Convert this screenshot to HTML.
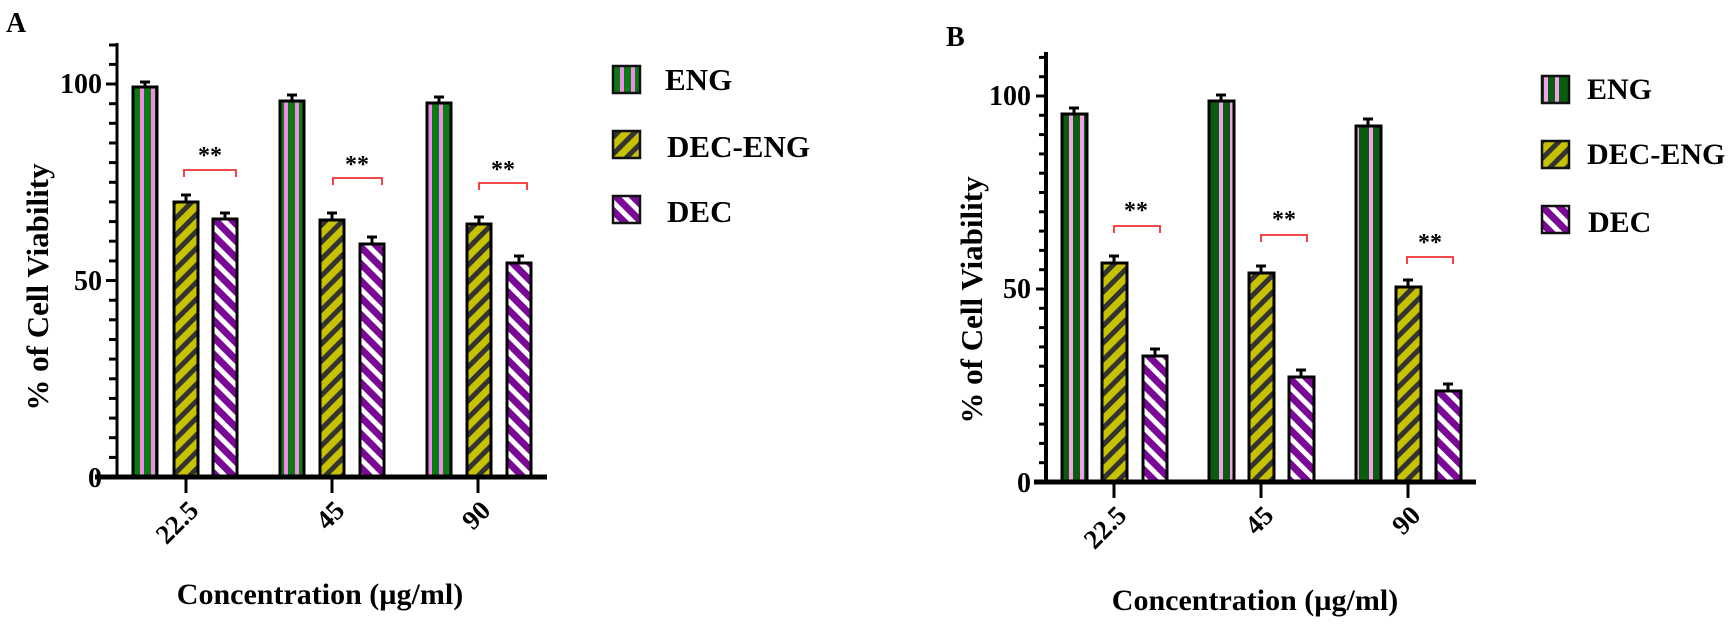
<!DOCTYPE html>
<html><head><meta charset="utf-8"><style>
html,body{margin:0;padding:0;background:#fff;}
svg{display:block;}
svg text{font-family:"Liberation Serif","DejaVu Serif",serif;font-weight:bold;}
</style></head><body>
<svg width="1733" height="626" viewBox="0 0 1733 626" xmlns="http://www.w3.org/2000/svg" font-family="Liberation Serif, DejaVu Serif, serif" font-weight="bold" style="font-family:'Liberation Serif','DejaVu Serif',serif;font-weight:bold">
<defs>
<pattern id="engA" width="24" height="10" patternUnits="userSpaceOnUse" x="133">
<rect width="24" height="10" fill="#0b7a12"/><rect x="7" width="4" height="10" fill="#f08ce8"/><rect x="18" width="4" height="10" fill="#f08ce8"/>
</pattern>
<pattern id="engB" width="25" height="10" patternUnits="userSpaceOnUse" x="1062">
<rect width="25" height="10" fill="#0a5c10"/><rect x="7" width="4" height="10" fill="#f2a0e8"/><rect x="18" width="4" height="10" fill="#f2a0e8"/>
</pattern>
<pattern id="de" width="12" height="12" patternUnits="userSpaceOnUse" patternTransform="rotate(45)">
<rect width="12" height="12" fill="#c6c200"/><rect width="5" height="12" fill="#333"/>
</pattern>
<pattern id="dec" width="12" height="12" patternUnits="userSpaceOnUse" patternTransform="rotate(-45)">
<rect width="12" height="12" fill="#7a0a96"/><rect width="5" height="12" fill="#fff"/>
</pattern>
</defs>

<!-- ===== Panel A ===== -->
<text x="6" y="32" font-size="28">A</text>
<g stroke="#000" stroke-width="3">
<line x1="117" y1="43" x2="117" y2="479"/>
<line x1="109" y1="477" x2="117" y2="477"/><line x1="109" y1="457.4" x2="117" y2="457.4"/><line x1="109" y1="437.7" x2="117" y2="437.7"/><line x1="109" y1="418.1" x2="117" y2="418.1"/><line x1="109" y1="398.4" x2="117" y2="398.4"/><line x1="109" y1="378.8" x2="117" y2="378.8"/><line x1="109" y1="359.1" x2="117" y2="359.1"/><line x1="109" y1="339.5" x2="117" y2="339.5"/><line x1="109" y1="319.8" x2="117" y2="319.8"/><line x1="109" y1="300.2" x2="117" y2="300.2"/><line x1="106" y1="280.5" x2="117" y2="280.5"/><line x1="109" y1="260.9" x2="117" y2="260.9"/><line x1="109" y1="241.2" x2="117" y2="241.2"/><line x1="109" y1="221.6" x2="117" y2="221.6"/><line x1="109" y1="201.9" x2="117" y2="201.9"/><line x1="109" y1="182.3" x2="117" y2="182.3"/><line x1="109" y1="162.6" x2="117" y2="162.6"/><line x1="109" y1="143" x2="117" y2="143"/><line x1="109" y1="123.3" x2="117" y2="123.3"/><line x1="109" y1="103.7" x2="117" y2="103.7"/><line x1="106" y1="84" x2="117" y2="84"/><line x1="109" y1="64.4" x2="117" y2="64.4"/><line x1="109" y1="45" x2="117" y2="45"/>
</g>
<text x="102" y="93" font-size="28" text-anchor="end">100</text>
<text x="102" y="290" font-size="28" text-anchor="end">50</text>
<text x="102" y="487" font-size="28" text-anchor="end">0</text>
<text transform="translate(48,287) rotate(-90)" font-size="31" text-anchor="middle">% of Cell Viability</text>

<g stroke="#000" stroke-width="3">
<rect x="133" y="87" width="24" height="390" fill="url(#engA)"/>
<rect x="174" y="202" width="24" height="275" fill="url(#de)"/>
<rect x="213" y="219" width="24" height="258" fill="url(#dec)"/>
<rect x="280" y="101" width="24" height="376" fill="url(#engA)"/>
<rect x="320" y="220" width="24" height="257" fill="url(#de)"/>
<rect x="360" y="244" width="24" height="233" fill="url(#dec)"/>
<rect x="427" y="103" width="24" height="374" fill="url(#engA)"/>
<rect x="467" y="224" width="24" height="253" fill="url(#de)"/>
<rect x="507" y="263" width="24" height="214" fill="url(#dec)"/>
<path d="M145 87V82M140 82H150 M186 202V195M181 195H191 M225 219V213M220 213H230 M292 101V95M287 95H297 M332 220V213M327 213H337 M372 244V237M367 237H377 M439 103V97M434 97H444 M479 224V217M474 217H484 M519 263V256M514 256H524" fill="none"/>
</g>
<line x1="95" y1="477" x2="547" y2="477" stroke="#000" stroke-width="5"/>
<g stroke="#000" stroke-width="3"><line x1="186" y1="477" x2="186" y2="493"/><line x1="332" y1="477" x2="332" y2="493"/><line x1="478" y1="477" x2="478" y2="493"/></g>
<g font-size="27" text-anchor="end">
<text transform="translate(200,512) rotate(-45)">22.5</text>
<text transform="translate(346,512) rotate(-45)">45</text>
<text transform="translate(492,512) rotate(-45)">90</text>
</g>
<text x="320" y="604" font-size="30" text-anchor="middle">Concentration (µg/ml)</text>
<g stroke="#f03030" stroke-width="1.8" fill="none">
<path d="M184 177V170H236V177"/><path d="M333 185V178H382V185"/><path d="M479 190V183H527V190"/>
</g>
<g font-size="24" text-anchor="middle"><text x="210" y="163">**</text><text x="357" y="172">**</text><text x="503" y="177">**</text></g>

<g stroke="#111" stroke-width="2.5">
<rect x="613" y="66" width="27" height="27" fill="url(#engA)"/>
<rect x="613" y="131" width="27" height="27" fill="url(#de)"/>
<rect x="613" y="196" width="27" height="27" fill="url(#dec)"/>
</g>
<g font-size="31"><text x="665" y="90">ENG</text><text x="667" y="157">DEC-ENG</text><text x="667" y="222">DEC</text></g>

<!-- ===== Panel B ===== -->
<text x="946" y="46" font-size="28">B</text>
<g stroke="#000" stroke-width="4">
<line x1="1046" y1="52" x2="1046" y2="484"/>
</g>
<g stroke="#000" stroke-width="3">
<line x1="1039" y1="482" x2="1046" y2="482"/><line x1="1039" y1="462.7" x2="1046" y2="462.7"/><line x1="1039" y1="443.4" x2="1046" y2="443.4"/><line x1="1039" y1="424.1" x2="1046" y2="424.1"/><line x1="1039" y1="404.8" x2="1046" y2="404.8"/><line x1="1039" y1="385.5" x2="1046" y2="385.5"/><line x1="1039" y1="366.2" x2="1046" y2="366.2"/><line x1="1039" y1="346.9" x2="1046" y2="346.9"/><line x1="1039" y1="327.6" x2="1046" y2="327.6"/><line x1="1039" y1="308.3" x2="1046" y2="308.3"/><line x1="1036" y1="289" x2="1046" y2="289"/><line x1="1039" y1="269.7" x2="1046" y2="269.7"/><line x1="1039" y1="250.4" x2="1046" y2="250.4"/><line x1="1039" y1="231.1" x2="1046" y2="231.1"/><line x1="1039" y1="211.8" x2="1046" y2="211.8"/><line x1="1039" y1="192.5" x2="1046" y2="192.5"/><line x1="1039" y1="173.2" x2="1046" y2="173.2"/><line x1="1039" y1="153.9" x2="1046" y2="153.9"/><line x1="1039" y1="134.6" x2="1046" y2="134.6"/><line x1="1039" y1="115.3" x2="1046" y2="115.3"/><line x1="1036" y1="96" x2="1046" y2="96"/><line x1="1039" y1="76.7" x2="1046" y2="76.7"/><line x1="1039" y1="57.4" x2="1046" y2="57.4"/>
</g>
<text x="1031" y="105" font-size="28" text-anchor="end">100</text>
<text x="1031" y="298" font-size="28" text-anchor="end">50</text>
<text x="1031" y="492" font-size="28" text-anchor="end">0</text>
<text transform="translate(982,300) rotate(-90)" font-size="31" text-anchor="middle">% of Cell Viability</text>

<g stroke="#000" stroke-width="3">
<rect x="1062" y="114" width="25" height="368" fill="url(#engB)"/>
<rect x="1102" y="263" width="25" height="219" fill="url(#de)"/>
<rect x="1143" y="356" width="24" height="126" fill="url(#dec)"/>
<rect x="1209" y="101" width="25" height="381" fill="url(#engB)"/>
<rect x="1249" y="273" width="25" height="209" fill="url(#de)"/>
<rect x="1289" y="377" width="25" height="105" fill="url(#dec)"/>
<rect x="1356" y="126" width="25" height="356" fill="url(#engB)"/>
<rect x="1396" y="287" width="25" height="195" fill="url(#de)"/>
<rect x="1436" y="391" width="25" height="91" fill="url(#dec)"/>
<path d="M1074 114V108M1069 108H1079 M1114 263V256M1109 256H1119 M1155 356V349M1150 349H1160 M1221 101V95M1216 95H1226 M1261 273V266M1256 266H1266 M1301 377V370M1296 370H1306 M1368 126V119M1363 119H1373 M1408 287V280M1403 280H1413 M1448 391V384M1443 384H1453" fill="none"/>
</g>
<line x1="1034" y1="482" x2="1476" y2="482" stroke="#000" stroke-width="5"/>
<g stroke="#000" stroke-width="3"><line x1="1114" y1="482" x2="1114" y2="498"/><line x1="1261" y1="482" x2="1261" y2="498"/><line x1="1408" y1="482" x2="1408" y2="498"/></g>
<g font-size="27" text-anchor="end">
<text transform="translate(1128,517) rotate(-45)">22.5</text>
<text transform="translate(1275,517) rotate(-45)">45</text>
<text transform="translate(1422,517) rotate(-45)">90</text>
</g>
<text x="1255" y="610" font-size="30" text-anchor="middle">Concentration (µg/ml)</text>
<g stroke="#f03030" stroke-width="1.8" fill="none">
<path d="M1114 233V226H1160V233"/><path d="M1261 242V235H1307V242"/><path d="M1407 264V257H1453V264"/>
</g>
<g font-size="24" text-anchor="middle"><text x="1136" y="218">**</text><text x="1284" y="227">**</text><text x="1430" y="250">**</text></g>

<g stroke="#111" stroke-width="2.5">
<rect x="1542" y="76" width="27" height="27" fill="url(#engB)"/>
<rect x="1542" y="141" width="27" height="27" fill="url(#de)"/>
<rect x="1542" y="206" width="27" height="27" fill="url(#dec)"/>
</g>
<g font-size="30"><text x="1587" y="99">ENG</text><text x="1587" y="164">DEC-ENG</text><text x="1588" y="232">DEC</text></g>
</svg>
</body></html>
